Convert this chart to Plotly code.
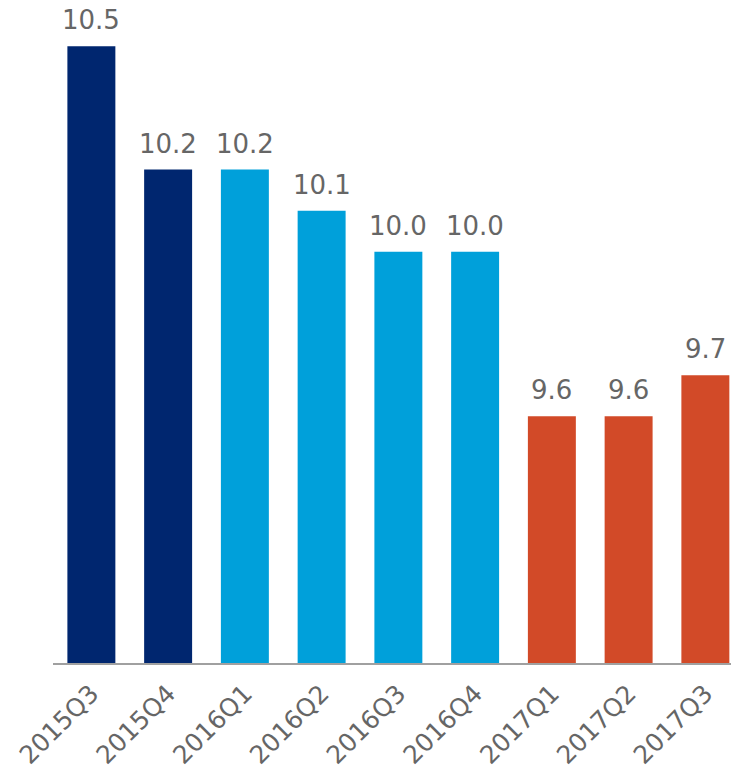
import plotly.graph_objects as go

quarters = ["2015Q3", "2015Q4", "2016Q1", "2016Q2", "2016Q3", "2016Q4", "2017Q1", "2017Q2", "2017Q3"]
values = [10.5, 10.2, 10.2, 10.1, 10.0, 10.0, 9.6, 9.6, 9.7]
labels = ["10.5", "10.2", "10.2", "10.1", "10.0", "10.0", "9.6", "9.6", "9.7"]
bar_colors = ["#00266F", "#00266F", "#00A0DA", "#00A0DA", "#00A0DA", "#00A0DA",
              "#D24A28", "#D24A28", "#D24A28"]

FONT = "DejaVu Sans"
TXT = "#666666"

fig = go.Figure()
fig.add_trace(go.Bar(
    x=quarters, y=values, marker=dict(color=bar_colors, line=dict(width=0)),
    showlegend=False, hoverinfo="skip",
))

for q, v, t in zip(quarters, values, labels):
    fig.add_annotation(x=q, y=v, text=t, showarrow=False, yanchor="bottom",
                       yshift=9, font=dict(family=FONT, size=26, color=TXT))

fig.update_layout(
    width=733, height=775,
    margin=dict(l=53, r=2, t=5, b=112),
    plot_bgcolor="white", paper_bgcolor="white",
    bargap=0.375,
    xaxis=dict(range=[-0.5, 8.334], showgrid=False, showline=True, linecolor="#A0A0A0",
               linewidth=2, ticks="", tickangle=-45, automargin=False,
               ticklabelstandoff=4,
               tickfont=dict(family=FONT, size=25, color=TXT)),
    yaxis=dict(range=[9.0, 10.6], visible=False, showgrid=False, zeroline=False,
               automargin=False),
)

fig.write_html("out.html", config={"displayModeBar": False},
               post_script="document.body.style.margin='0';document.body.style.overflow='hidden';")
